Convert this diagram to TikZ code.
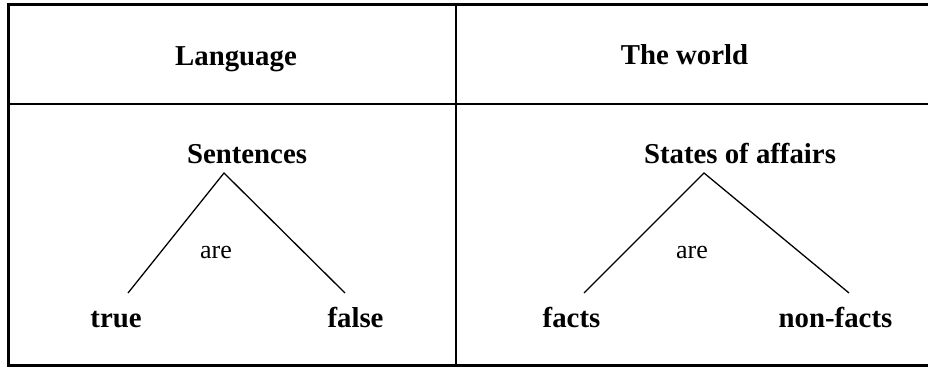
\documentclass[tikz,border=0pt]{standalone}
\usepackage{fontspec}
\setmainfont{Liberation Serif}

\tikzset{
	headtxt/.style={anchor=base,inner sep=0pt,font=\fontsize{28.8}{34}\selectfont\bfseries},
	termtxt/.style={anchor=base,inner sep=0pt,font=\fontsize{28.8}{34}\selectfont\bfseries},
	copula/.style={anchor=base,inner sep=0pt,font=\fontsize{26}{30}\selectfont},
	branch/.style={line width=1.3pt,black}
}

\begin{document}
\begin{tikzpicture}[x=1pt,y=-1pt]
						\useasboundingbox (0,0) rectangle (928,369);
						% frame of the table
						\draw[line width=3pt] (8.5,4.5) -- (930,4.5);
						\draw[line width=3pt] (8.5,365.5) -- (930,365.5);
						\draw[line width=3pt] (8.5,3) -- (8.5,367);
						\draw[line width=2pt] (8.5,104) -- (930,104);
						\draw[line width=2pt] (456,4.5) -- (456,365.5);
						% headings
						\node (lang)[headtxt] at (236,66) {Language};
						\node (world)[headtxt] at (684.5,64) {The world};
						% left column
						\node (sent)[termtxt] at (247,163) {Sentences};
						\coordinate (sentapex) at (224,173);
						\coordinate (truefoot) at (128,293);
						\coordinate (falsefoot) at (345,293);
						\draw[branch] (truefoot) -- (sentapex) -- (falsefoot);
						\node (arel)[copula] at (216,258) {are};
						\node (true)[termtxt] at (116,327) {true};
						\node (false)[termtxt] at (355.5,327) {false};
						% right column
						\node (soa)[termtxt] at (740,163) {States of affairs};
						\coordinate (soaapex) at (704,173);
						\coordinate (factfoot) at (584,293);
						\coordinate (nonfactfoot) at (849,293);
						\draw[branch] (factfoot) -- (soaapex) -- (nonfactfoot);
						\node (arer)[copula] at (692,258) {are};
						\node (facts)[termtxt] at (571.5,327) {facts};
						\node (nonfacts)[termtxt] at (835.5,327) {non-facts};
					\end{tikzpicture}
\end{document}
